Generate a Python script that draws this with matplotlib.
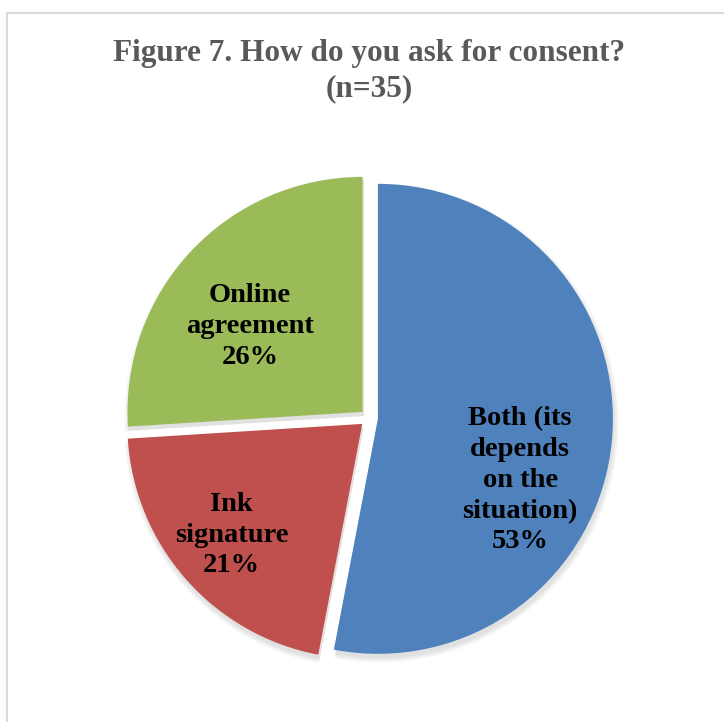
import matplotlib.pyplot as plt
import numpy as np
from matplotlib.patches import Rectangle, Wedge

# chart values
categories = ["Both (its\ndepends\non the\nsituation)", "Ink\nsignature", "Online\nagreement"]
shares = [53, 21, 26]
colors = ["#4F81BD", "#C0504D", "#9BBB59"]
title = "Figure 7. How do you ask for consent?\n(n=35)"

W, H = 724, 722
fig = plt.figure(figsize=(W / 100, H / 100), dpi=100)

# light grey frame round the chart (runs off the right and bottom edges)
fig.patches.append(Rectangle((7 / W, -0.1), 2, (H - 13) / H + 0.1,
                             transform=fig.transFigure, fill=False,
                             ec="#D9D9D9", lw=1.5))

fig.text(369 / W, 1 - 71 / H, title, ha="center", va="center",
         fontsize=22.5, fontweight="bold", color="#595959",
         family="Liberation Serif", linespacing=1.3)

# pie centre at (369, 418) px, radius 235 px
R = 235
half = 1.2 * R
ax = fig.add_axes([(369 - half) / W, (H - 418 - half) / H, 2 * half / W, 2 * half / H])

wedges, texts = ax.pie(shares, colors=colors, startangle=90, counterclock=False,
                       explode=[0.038] * 3, radius=1,
                       wedgeprops=dict(linewidth=0))
ax.set_xlim(-1.2, 1.2)
ax.set_ylim(-1.2, 1.2)
ax.axis("off")

# soft shadow, mostly below each slice
for w in wedges:
    cx, cy = w.center
    for k in range(6):
        ax.add_patch(Wedge((cx + 0.006, cy - 0.018), w.r * (1 + 0.004 * k),
                           w.theta1, w.theta2, fc="black", alpha=0.02,
                           lw=0, zorder=0.5))

# data labels inside the slices
label_r = [0.66, 0.73, 0.6]
label_turn = [-18, -1, 6]
for w, name, pct, r, turn in zip(wedges, categories, shares, label_r, label_turn):
    mid = np.deg2rad((w.theta1 + w.theta2) / 2 + turn)
    cx, cy = w.center
    ax.text(cx + r * np.cos(mid), cy + r * np.sin(mid), f"{name}\n{pct}%",
            ha="center", va="center", fontsize=20.5, fontweight="bold",
            family="Liberation Serif", color="black", linespacing=1.3)

fig.savefig("out.png", dpi=100)
